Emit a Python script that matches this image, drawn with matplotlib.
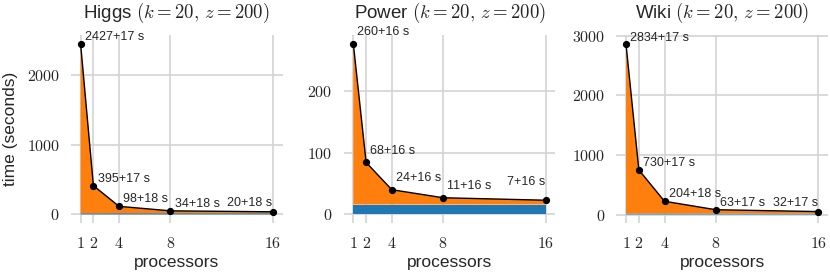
import matplotlib
matplotlib.use("Agg")
import matplotlib.pyplot as plt
import numpy as np

plt.rcParams['font.family'] = ['Liberation Sans', 'DejaVu Sans']
plt.rcParams['mathtext.fontset'] = 'cm'

processors = [1, 2, 4, 8, 16]
datasets = ["Higgs", "Power", "Wiki"]
higgs_compute = [2427, 395, 98, 34, 20]
higgs_extra = [17, 17, 18, 18, 18]
power_compute = [260, 68, 24, 11, 7]
power_extra = [16, 16, 16, 16, 16]
wiki_compute = [2834, 730, 204, 63, 32]
wiki_extra = [17, 17, 18, 17, 17]
higgs_yticks = [0, 1000, 2000]
power_yticks = [0, 100, 200]
wiki_yticks = [0, 1000, 2000, 3000]
x_ticks = [1, 2, 4, 8, 16]

panels = [
    (datasets[0], higgs_compute, higgs_extra, higgs_yticks),
    (datasets[1], power_compute, power_extra, power_yticks),
    (datasets[2], wiki_compute, wiki_extra, wiki_yticks),
]
# label offsets in points (style only): (normal dy, last dy)
label_dy = [(5.0, 6.0), (8.5, 13.0), (5.0, 6.0)]

ORANGE = '#ff7f0e'
BLUE = '#1f77b4'
TXT = '#262626'

fig, axes = plt.subplots(1, 3, figsize=(8.3, 2.76), dpi=100)
fig.subplots_adjust(left=0.0855, right=0.9976, top=0.873, bottom=0.192, wspace=0.289)

for i, (ax, (name, comp, extra, yt)) in enumerate(zip(axes, panels)):
    x = np.array(processors)
    c = np.array(comp)
    e = np.array(extra)
    total = c + e
    ax.stackplot(x, e, c, colors=[BLUE, ORANGE], linewidth=0, zorder=2)
    ax.plot(x, total, color='black', lw=1.0, marker='o', ms=4.2, zorder=3)
    for j, (xi, ti) in enumerate(zip(x, total)):
        last = j == len(x) - 1
        dy = label_dy[i][1] if last else label_dy[i][0]
        ax.annotate(f"{c[j]}+{e[j]} s", (xi, ti),
                    xytext=(-0.5 if last else 3, dy),
                    textcoords='offset points',
                    ha='right' if last else 'left', va='center',
                    fontsize=9, color=TXT, zorder=4)
    ax.set_xticks(x_ticks)
    ax.set_xticklabels([f"${t}$" for t in x_ticks])
    ax.set_yticks(yt)
    ax.set_yticklabels([f"${t}$" for t in yt])
    ax.set_xlim(0.25, 16.75)
    top = max(1.05 * total.max(), yt[-1] * 1.003)
    ax.set_ylim(-0.05 * total.max(), top)
    ax.grid(True, color='#d3d3d3', lw=1.2, zorder=0)
    ax.set_axisbelow(True)
    for s in ax.spines.values():
        s.set_visible(False)
    ax.tick_params(axis='x', length=0, pad=9.5, labelsize=11.5, labelcolor=TXT)
    ax.tick_params(axis='y', length=0, pad=8, labelsize=11.5, labelcolor=TXT)
    ax.set_xlabel("processors", fontsize=12.5, color=TXT, labelpad=3)
    ax.set_title(f"{name} $(k = 20,\\, z = 200)$", fontsize=13.5, color=TXT, pad=12)
    if i == 0:
        ax.set_ylabel("time (seconds)", fontsize=12.5, color=TXT, labelpad=6)

fig.savefig("out.png", dpi=100)
